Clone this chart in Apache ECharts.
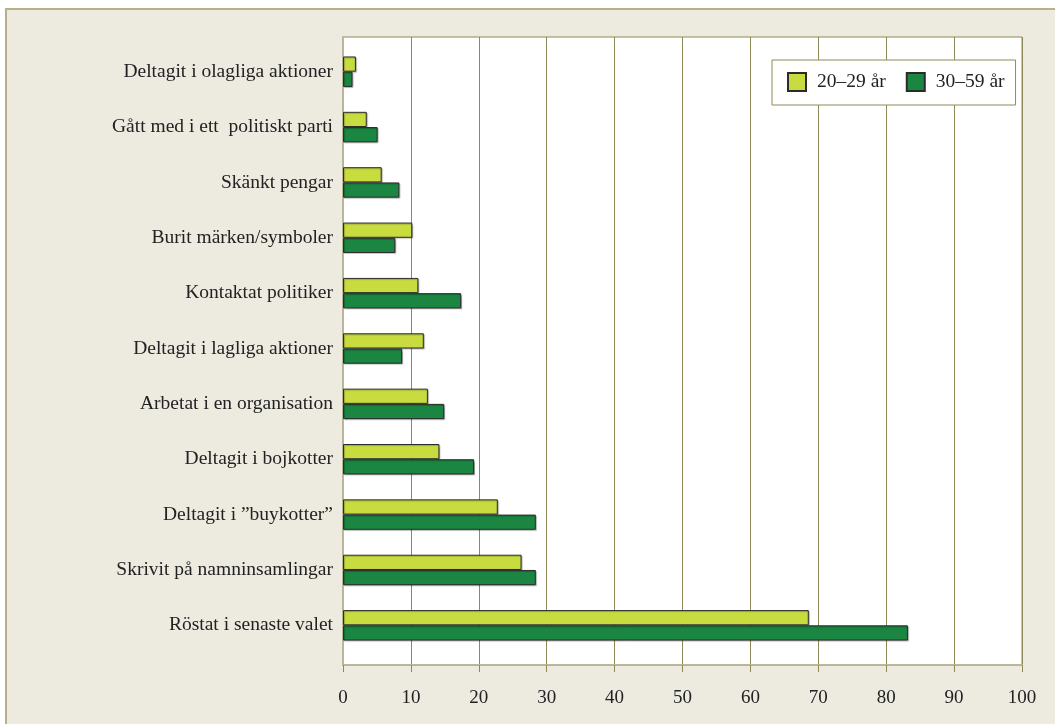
<!DOCTYPE html>
<html>
<head>
<meta charset="utf-8">
<script src="https://cdn.jsdelivr.net/npm/echarts@6/dist/echarts.min.js"></script>
<style>
  html, body { margin: 0; padding: 0; background: #fff; }
  #main { width: 1055px; height: 724px; }
</style>
</head>
<body>
<div id="main"></div>
<script>
// kategorier uppifrån och ned
var categories = [
  "Deltagit i olagliga aktioner",
  "Gått med i ett  politiskt parti",
  "Skänkt pengar",
  "Burit märken/symboler",
  "Kontaktat politiker",
  "Deltagit i lagliga aktioner",
  "Arbetat i en organisation",
  "Deltagit i bojkotter",
  "Deltagit i ”buykotter”",
  "Skrivit på namninsamlingar",
  "Röstat i senaste valet"
];
var seriesNames = ["20–29 år", "30–59 år"];
var young = [1.9, 3.5, 5.7, 10.2, 11.1, 11.9, 12.5, 14.2, 22.8, 26.3, 68.6];
var older = [1.4, 5.1, 8.3, 7.7, 17.4, 8.7, 14.9, 19.3, 28.4, 28.4, 83.2];
var xTicks = [0, 100, 10]; // min, max, steg

var serif = "Liberation Serif";
var olive = "#8E8A58";
var lightAxis = "#BBB69B";

var myChart = echarts.init(document.getElementById("main"));

function barStyle(color) {
  return {
    color: color,
    borderColor: "#2b2b2b",
    borderWidth: 1,
    shadowColor: "rgba(0,0,0,0.25)",
    shadowOffsetX: 1,
    shadowOffsetY: 1,
    shadowBlur: 1
  };
}

var option = {
  animation: false,
  graphic: [{
    type: "rect",
    z: -10,
    shape: { x: 6, y: 9, width: 2000, height: 2000 },
    style: { fill: "#EDEAE0", stroke: "#B8B08A", lineWidth: 2 }
  }],
  legend: {
    left: 772,
    top: 60,
    orient: "horizontal",
    backgroundColor: "#fff",
    borderColor: olive,
    borderWidth: 1,
    padding: [12, 11, 13, 15],
    itemWidth: 18,
    itemHeight: 18,
    itemGap: 20,
    icon: "rect",
    textStyle: { fontFamily: serif, fontSize: 19.5, lineHeight: 18, color: "#222", padding: [0, 0, 0, 6] },
    data: seriesNames
  },
  grid: [
    // ram med rutnät
    { left: 343, top: 37, width: 679, height: 628, show: true,
      backgroundColor: "#fff", borderColor: olive, borderWidth: 1 },
    // staplar
    { left: 343, top: 44, width: 679, height: 609 }
  ],
  xAxis: [
    {
      gridIndex: 0, type: "value",
      min: xTicks[0], max: xTicks[1], interval: xTicks[2],
      axisLine: { show: true, lineStyle: { color: lightAxis, width: 2 } },
      axisTick: { show: true, length: 7, lineStyle: { color: olive } },
      splitLine: { show: true, lineStyle: { color: olive, width: 1 } },
      axisLabel: { fontFamily: serif, fontSize: 19, color: "#222", margin: 24 }
    },
    {
      gridIndex: 1, type: "value",
      min: xTicks[0], max: xTicks[1], show: false
    }
  ],
  yAxis: [
    {
      gridIndex: 0, type: "value", min: 0, max: 1,
      axisLine: { show: true, lineStyle: { color: lightAxis, width: 2 } },
      axisTick: { show: false },
      axisLabel: { show: false },
      splitLine: { show: false }
    },
    {
      gridIndex: 1, type: "category", inverse: true,
      data: categories,
      axisLine: { show: false },
      axisTick: { show: false },
      axisLabel: { fontFamily: serif, fontSize: 19.5, color: "#222", margin: 10 }
    }
  ],
  series: [
    {
      name: seriesNames[0], type: "bar",
      xAxisIndex: 1, yAxisIndex: 1,
      barCategoryGap: "45%", barGap: "0%",
      itemStyle: barStyle("#C8DC40"),
      data: young
    },
    {
      name: seriesNames[1], type: "bar",
      xAxisIndex: 1, yAxisIndex: 1,
      barCategoryGap: "45%", barGap: "0%",
      itemStyle: barStyle("#1A8642"),
      data: older
    }
  ]
};
myChart.setOption(option);
</script>
</body>
</html>
